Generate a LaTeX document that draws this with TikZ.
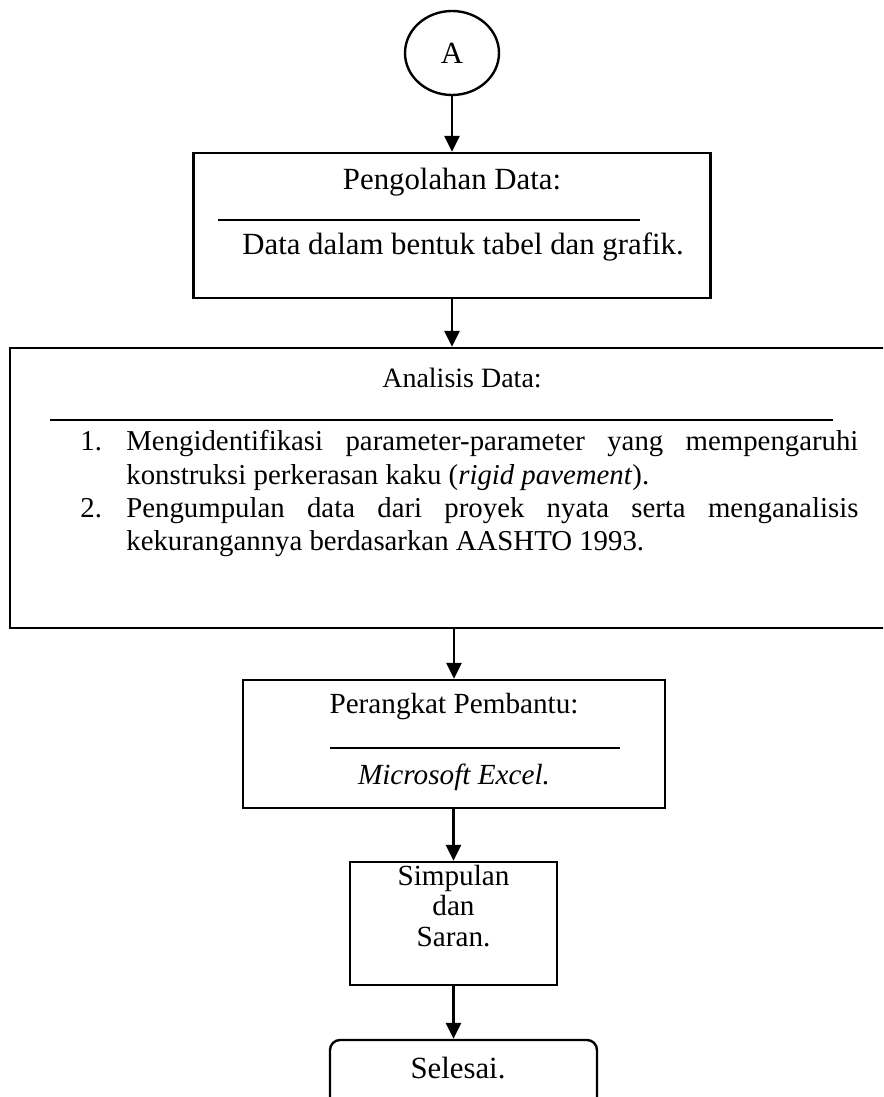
\documentclass[tikz,border=0pt]{standalone}
\usepackage{fontspec}
\setmainfont{Liberation Serif}
\usetikzlibrary{arrows.meta,shapes.geometric}
\begin{document}
\begin{tikzpicture}[x=0.5pt,y=-0.5pt,
  box/.style={draw,line width=1.2pt,inner sep=0pt},
  txt/.style={font=\fontsize{15.4}{15.5}\selectfont,inner sep=0pt},
  txtm/.style={font=\fontsize{14}{16.7}\selectfont,inner sep=0pt},
  txtl/.style={font=\fontsize{14.4}{16.7}\selectfont,inner sep=0pt},
  txtc/.style={font=\fontsize{14.6}{15.2}\selectfont,inner sep=0pt},
  arr/.style={line width=1.3pt,-{Triangle[width=7.5pt,length=8pt]}},
  uline/.style={inner sep=0pt}]
\useasboundingbox (0,0) rectangle (883,1097);
\clip (0,0) rectangle (883,1097);
% start connector
\node[box,ellipse,minimum width=47pt,minimum height=42pt,txt] (A) at (452,53) {A};
% box 1
\node[box,minimum width=258.5pt,minimum height=72.5pt] (b1) at (452,225.5) {};
\node[txt] (t1a) at (452,182) {Pengolahan Data:};
\node[uline] (u1) at (429,220) {\rule{211pt}{0.6pt}};
\node[txt] (t1b) at (463,247) {Data dalam bentuk tabel dan grafik.};
% box 2
\node[box,minimum width=445pt,minimum height=140pt] (b2) at (455,488) {};
\node[txtm] (t2a) at (462,378) {Analisis Data:};
\node[uline] (u2) at (441.5,420) {\rule{391.5pt}{0.6pt}};
\node[txtl,anchor=north west,text width=389pt,align=justify] (t2b) at (80,430) {%
\hyphenpenalty=10000\exhyphenpenalty=10000
\hangindent=23pt\hangafter=1\noindent\makebox[23pt][l]{1.}Mengidentifikasi parameter-parameter yang mempengaruhi konstruksi perkerasan kaku (\textit{rigid pavement}).\par
\hangindent=23pt\hangafter=1\noindent\makebox[23pt][l]{2.}Pengumpulan data dari proyek nyata serta menganalisis kekurangannya berdasarkan AASHTO 1993.\par};
% box 3
\node[box,minimum width=211pt,minimum height=64pt] (b3) at (454,744) {};
\node[txtc] (t3a) at (454,707) {Perangkat Pembantu:};
\node[uline] (u3) at (475,748) {\rule{145pt}{0.6pt}};
\node[txtc] (t3b) at (454,777) {\textit{Microsoft Excel.}};
% box 4
\node[box,minimum width=103.5pt,minimum height=61.5pt] (b4) at (453.5,923.5) {};
\node[txtc,align=center] (t4) at (453.5,906) {Simpulan\\dan\\Saran.};
% box 5
\node[box,rounded corners=5pt,minimum width=133.5pt,minimum height=37.5pt] (b5) at (463.5,1077.5) {};
\node[txt] (t5) at (458,1068) {Selesai.};
% connectors
\draw[arr] (A.south) -- (A.south |- b1.north);
\draw[arr] (b1.south) -- (b1.south |- b2.north);
\draw[arr] (b3.north |- b2.south) -- (b3.north);
\draw[arr] (b3.south -| b4.north) -- (b4.north);
\draw[arr] (b4.south) -- (b4.south |- b5.north);
\end{tikzpicture}
\end{document}
